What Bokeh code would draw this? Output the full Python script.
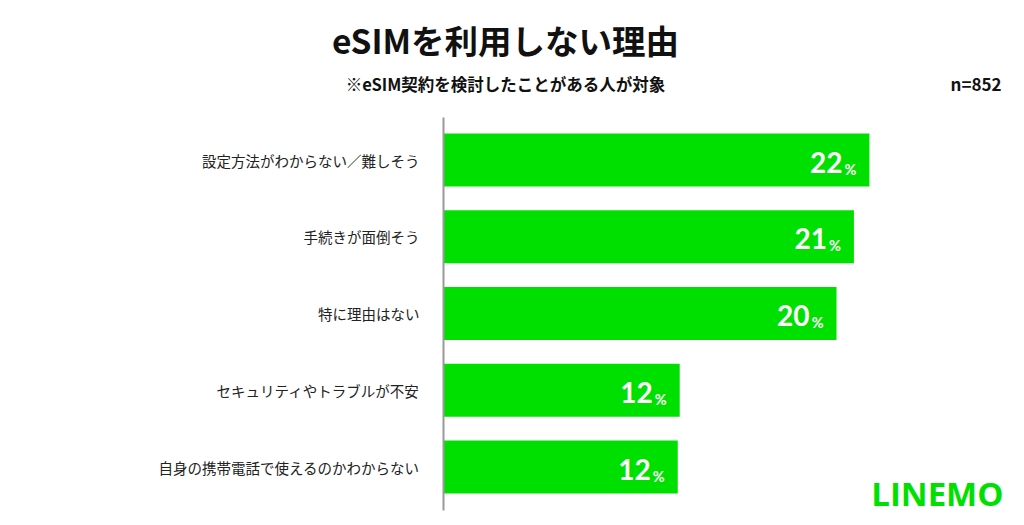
from bokeh.plotting import figure
from bokeh.models import ColumnDataSource, Range1d
from bokeh.core.properties import value
from bokeh.embed import file_html
from bokeh.resources import INLINE

# ---- data ----
categories = [
    "設定方法がわからない／難しそう",
    "手続きが面倒そう",
    "特に理由はない",
    "セキュリティやトラブルが不安",
    "自身の携帯電話で使えるのかわからない",
]
values = [22.0, 21.2, 20.3, 12.2, 12.1]
value_labels = ["22", "21", "20", "12", "12"]
title_text = "eSIMを利用しない理由"
subtitle_text = "※eSIM契約を検討したことがある人が対象"
n_text = "n=852"
brand_text = "LINEMO"

GREEN = "#00E000"
JP = "Noto Sans CJK JP"
W, H = 1016, 517

# layout helpers (pixel layout -> data units)
K = 19.36          # px per percent
AX0 = 443          # pixel x of the value axis
U = 76.75          # px per category slot
Y0 = 466.5         # pixel y of the bottom category centre
def X(px):
    return (px - AX0) / K
def Y(py):
    return (Y0 - py) / U

n = len(categories)
ypos = [n - 1 - i for i in range(n)]   # first category on top

p = figure(width=W, height=H, output_backend="svg", toolbar_location=None,
           x_range=Range1d(X(0), X(W)), y_range=Range1d(Y(H), Y(0)),
           min_border=0)
p.axis.visible = False
p.grid.visible = False
p.outline_line_color = None

src = ColumnDataSource(dict(cat=categories, y=ypos, val=values, lab=value_labels,
                            pct=["%"] * n))

# bars
p.hbar(y="y", right="val", left=0, height=53 / U, source=src,
       fill_color=GREEN, line_color=None)

# value axis line
p.segment(x0=[0], x1=[0], y0=[Y(510)], y1=[Y(117)], line_color="#999999", line_width=2)

# category labels
p.text(x=0, y="y", text="cat", source=src, x_offset=-24, text_align="right",
       text_baseline="middle", text_font=value(JP), text_font_size="14.5px",
       text_color="#222222")

# value labels
p.text(x="val", y="y", text="lab", source=src, x_offset=-27, y_offset=2,
       text_align="right", text_baseline="middle", text_color="white",
       text_font=value("Lato"), text_font_style="bold", text_font_size="28px")
p.text(x="val", y="y", text="pct", source=src, x_offset=-13, y_offset=9,
       text_align="right", text_baseline="alphabetic", text_color="white",
       text_font=value("Lato"), text_font_style="bold", text_font_size="14.5px")

# titles
p.text(x=[X(505)], y=[Y(39)], text=[title_text], text_align="center",
       text_baseline="middle", text_font=value(JP), text_font_style="bold",
       text_font_size="33.5px", text_color="#111111")
p.text(x=[X(505)], y=[Y(83)], text=[subtitle_text], text_align="center",
       text_baseline="middle", text_font=value(JP), text_font_style="bold",
       text_font_size="16.5px", text_color="#111111")
p.text(x=[X(1001)], y=[Y(83)], text=[n_text], text_align="right",
       text_baseline="middle", text_font=value(JP), text_font_style="bold",
       text_font_size="17px", text_color="#111111")

# brand mark
p.text(x=[X(1003)], y=[Y(493)], text=[brand_text], text_align="right",
       text_baseline="middle", text_font=value("Open Sans"), text_font_style="bold",
       text_font_size="33px", text_color=GREEN)

open("out.html", "w").write(file_html(p, INLINE))
